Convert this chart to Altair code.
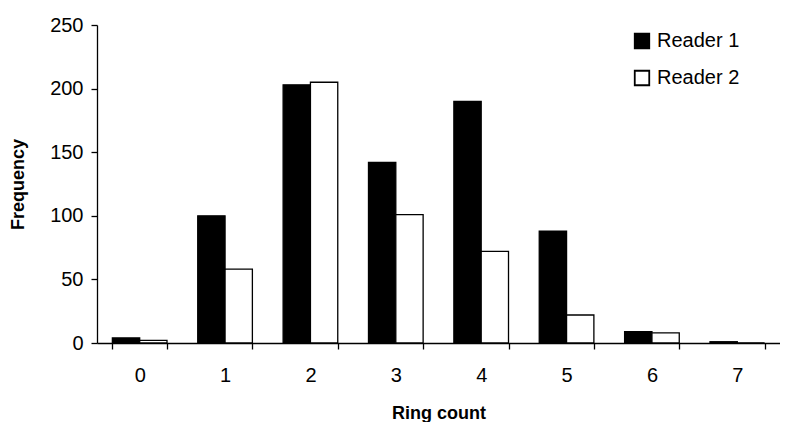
import altair as alt
import pandas as pd

ring_counts = [0, 1, 2, 3, 4, 5, 6, 7]
reader1 = [4, 100, 203, 142, 190, 88, 9, 1]
reader2 = [2, 58, 205, 101, 72, 22, 8, 0]
readers = ["Reader 1", "Reader 2"]

rows = []
for i, rc in enumerate(ring_counts):
    rows.append({"ring": rc, "reader": readers[0], "freq": reader1[i]})
    rows.append({"ring": rc, "reader": readers[1], "freq": reader2[i]})
df = pd.DataFrame(rows)

FONT = "Liberation Sans"

chart = alt.Chart(df).mark_bar(stroke="black", strokeWidth=1.3).encode(
    x=alt.X("ring:O", title="Ring count",
            scale=alt.Scale(paddingInner=0.36, paddingOuter=0.18),
            axis=alt.Axis(labelAngle=0, tickBand="extent", tickSize=6,
                          labelPadding=16, titlePadding=19)),
    xOffset=alt.XOffset("reader:N", sort=readers),
    y=alt.Y("freq:Q", title="Frequency",
            scale=alt.Scale(domain=[0, 250], nice=False),
            axis=alt.Axis(values=[0, 50, 100, 150, 200, 250], tickSize=6,
                          grid=False, labelPadding=8, titlePadding=22)),
    fill=alt.Fill("reader:N", sort=readers,
                  scale=alt.Scale(domain=readers, range=["black", "white"]),
                  legend=alt.Legend(title=None, orient="none", legendX=535, legendY=6,
                                    symbolType="square", symbolSize=210,
                                    symbolStrokeColor="black", symbolStrokeWidth=1.8,
                                    labelFontSize=20, labelFont=FONT, rowPadding=15,
                                    labelOffset=5)),
).properties(
    width=683, height=318,
    autosize=alt.AutoSizeParams(type="none"),
    padding={"left": 89, "top": 17, "right": 0, "bottom": 79},
).configure(background="white").configure_view(stroke=None).configure_axis(
    domainColor="black", tickColor="black", labelColor="black", titleColor="black",
    labelFont=FONT, titleFont=FONT, labelFontSize=20, titleFontSize=18,
    titleFontWeight="bold", domainWidth=1.3, tickWidth=1.3, grid=False,
)

chart.save("out.html", embed_options={"renderer": "svg", "actions": False})
